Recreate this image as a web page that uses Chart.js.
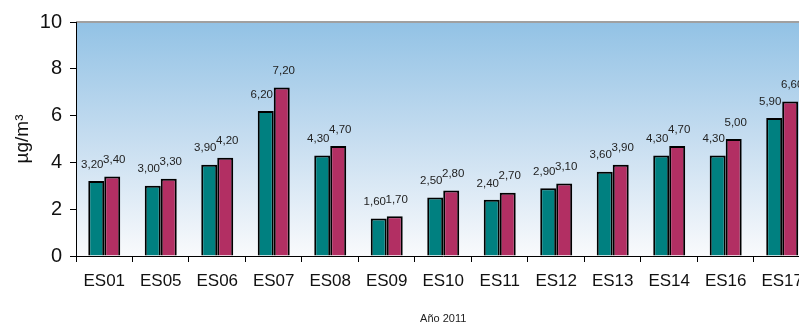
<!DOCTYPE html>
<html>
<head>
<meta charset="utf-8">
<script src="https://cdn.jsdelivr.net/npm/chart.js@4/dist/chart.umd.min.js"></script>
<style>
  html, body { margin: 0; padding: 0; background: #fff; overflow: hidden; width: 799px; height: 326px; }
  canvas { display: block; }
</style>
</head>
<body>
<canvas id="c" width="812" height="326"></canvas>
<script>
// Stations and yearly mean concentrations (µg/m³)
const stations = ['ES01', 'ES05', 'ES06', 'ES07', 'ES08', 'ES09', 'ES10', 'ES11', 'ES12', 'ES13', 'ES14', 'ES16', 'ES17'];
const seriesA = [3.20, 3.00, 3.90, 6.20, 4.30, 1.60, 2.50, 2.40, 2.90, 3.60, 4.30, 4.30, 5.90];
const seriesB = [3.40, 3.30, 4.20, 7.20, 4.70, 1.70, 2.80, 2.70, 3.10, 3.90, 4.70, 5.00, 6.60];
const yTicks = [0, 2, 4, 6, 8, 10];

const FONT = '"Liberation Sans", Arial, sans-serif';

// Sky-blue gradient behind the plot area, with a grey top edge
const plotBackground = {
  id: 'plotBackground',
  beforeDraw(chart) {
    const { ctx, chartArea: a } = chart;
    const g = ctx.createLinearGradient(0, a.top, 0, a.bottom);
    g.addColorStop(0, '#92c2e5');
    g.addColorStop(0.5, '#c6ddf0');
    g.addColorStop(1, '#f9fafc');
    ctx.save();
    ctx.fillStyle = g;
    ctx.fillRect(a.left, a.top, a.right - a.left, a.bottom - a.top);
    ctx.strokeStyle = '#a0a0a0';
    ctx.lineWidth = 2;
    ctx.beginPath();
    ctx.moveTo(a.left, a.top);
    ctx.lineTo(a.right, a.top);
    ctx.stroke();
    ctx.restore();
  }
};

// Value labels above each bar, written with a decimal comma
const valueLabels = {
  id: 'valueLabels',
  afterDatasetsDraw(chart) {
    const { ctx } = chart;
    const shifts = [-4, 2];
    ctx.save();
    ctx.font = '11.5px ' + FONT;
    ctx.fillStyle = '#222';
    ctx.textAlign = 'center';
    ctx.textBaseline = 'middle';
    chart.data.datasets.forEach((ds, di) => {
      chart.getDatasetMeta(di).data.forEach((bar, i) => {
        const txt = ds.data[i].toFixed(2).replace('.', ',');
        ctx.fillText(txt, bar.x + shifts[di], bar.y - 16.5);
      });
    });
    ctx.restore();
  }
};

new Chart(document.getElementById('c'), {
  type: 'bar',
  data: {
    labels: stations,
    datasets: [
      { data: seriesA, backgroundColor: '#008080', borderColor: '#000', borderWidth: 2 },
      { data: seriesB, backgroundColor: '#b22f63', borderColor: '#000', borderWidth: 2 }
    ]
  },
  options: {
    responsive: false,
    devicePixelRatio: 1,
    animation: false,
    layout: { padding: { top: 22, right: 0, left: 0, bottom: 0 } },
    plugins: { legend: { display: false }, tooltip: { enabled: false } },
    datasets: { bar: { categoryPercentage: 0.566, barPercentage: 1 } },
    scales: {
      x: {
        grid: { offset: true, drawOnChartArea: false, drawTicks: true, tickLength: 6, color: '#000' },
        border: { color: '#000', width: 1 },
        ticks: { color: '#111', font: { family: FONT, size: 17 }, padding: 9, maxRotation: 0, autoSkip: false },
        title: { display: true, text: 'Año 2011', color: '#222', font: { family: FONT, size: 11 }, padding: { top: 0, bottom: 0 } },
        afterFit(s) { s.height = 70; }
      },
      y: {
        min: 0, max: 10,
        afterBuildTicks(s) { s.ticks = yTicks.map(v => ({ value: v })); },
        grid: { drawOnChartArea: false, drawTicks: true, tickLength: 6, color: '#000' },
        border: { color: '#000', width: 1 },
        ticks: { color: '#111', font: { family: FONT, size: 20 }, padding: 8 },
        title: { display: true, text: 'µg/m³', color: '#111', font: { family: FONT, size: 19 }, padding: { top: 11, bottom: 0 } },
        afterFit(s) { s.width = 76; }
      }
    }
  },
  plugins: [plotBackground, valueLabels]
});
</script>
</body>
</html>
